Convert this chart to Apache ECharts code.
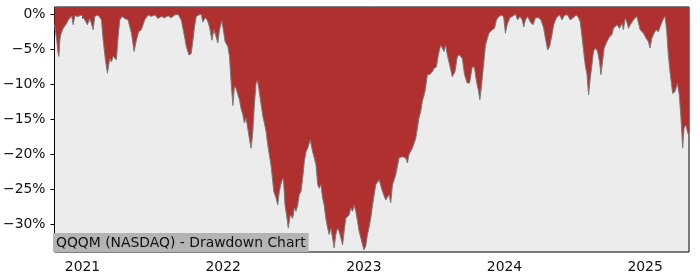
<!DOCTYPE html>
<html>
<head>
<meta charset="utf-8">
<script src="https://cdn.jsdelivr.net/npm/echarts@6/dist/echarts.min.js"></script>
<style>html,body{margin:0;padding:0;background:#fff}#c{width:700px;height:280px}</style>
</head>
<body>
<div id="c"></div>
<script>
// time in decimal years
var years = [2020.801,2020.816,2020.826,2020.832,2020.840,2020.848,2020.863,2020.887,2020.899,2020.922,2020.934,2020.945,2020.968,2020.993,
2021.016,2021.035,2021.052,2021.076,2021.087,2021.111,2021.135,2021.147,2021.163,2021.177,2021.194,2021.206,2021.218,2021.229,2021.241,2021.253,
2021.265,2021.282,2021.300,2021.324,2021.348,2021.367,2021.383,2021.399,2021.418,2021.442,2021.466,2021.489,2021.513,2021.537,2021.560,2021.584,
2021.608,2021.631,2021.655,2021.679,2021.702,2021.721,2021.738,2021.757,2021.773,2021.785,2021.796,2021.809,2021.826,2021.844,2021.856,2021.872,
2021.887,2021.903,2021.920,2021.934,2021.950,2021.962,2021.974,2021.991,2022.005,2022.014,2022.033,2022.045,2022.057,2022.069,2022.080,2022.092,
2022.104,2022.116,2022.128,2022.140,2022.151,2022.163,2022.175,2022.187,2022.199,2022.211,2022.222,2022.234,2022.243,2022.253,2022.270,2022.282,
2022.293,2022.305,2022.317,2022.328,2022.340,2022.351,2022.360,2022.376,2022.388,2022.399,2022.416,2022.428,2022.440,2022.454,2022.463,2022.477,
2022.494,2022.506,2022.518,2022.530,2022.541,2022.553,2022.565,2022.577,2022.589,2022.601,2022.619,2022.629,2022.636,2022.648,2022.660,2022.672,
2022.683,2022.695,2022.707,2022.718,2022.730,2022.743,2022.754,2022.766,2022.778,2022.789,2022.801,2022.813,2022.825,2022.837,2022.849,2022.860,
2022.872,2022.896,2022.908,2022.920,2022.931,2022.943,2022.955,2022.967,2022.979,2022.991,2023.002,2023.014,2023.026,2023.038,2023.050,2023.062,
2023.085,2023.109,2023.133,2023.156,2023.179,2023.191,2023.204,2023.227,2023.250,2023.274,2023.298,2023.310,2023.321,2023.345,2023.369,2023.381,
2023.392,2023.404,2023.416,2023.435,2023.452,2023.468,2023.487,2023.499,2023.516,2023.530,2023.546,2023.558,2023.570,2023.582,2023.594,2023.610,
2023.629,2023.648,2023.665,2023.681,2023.700,2023.716,2023.735,2023.752,2023.771,2023.787,2023.801,2023.816,2023.825,2023.835,2023.849,2023.865,
2023.889,2023.913,2023.929,2023.943,2023.960,2023.984,2023.995,2024.007,2024.019,2024.038,2024.055,2024.078,2024.094,2024.110,2024.126,2024.137,
2024.149,2024.165,2024.184,2024.203,2024.220,2024.243,2024.260,2024.279,2024.291,2024.307,2024.321,2024.333,2024.350,2024.369,2024.392,2024.409,
2024.428,2024.449,2024.468,2024.487,2024.511,2024.527,2024.539,2024.558,2024.574,2024.587,2024.598,2024.610,2024.622,2024.633,2024.645,2024.662,
2024.676,2024.686,2024.697,2024.709,2024.728,2024.747,2024.764,2024.775,2024.799,2024.818,2024.835,2024.846,2024.858,2024.870,2024.882,2024.894,
2024.917,2024.941,2024.953,2024.965,2024.988,2025.007,2025.023,2025.035,2025.048,2025.064,2025.078,2025.094,2025.106,2025.126,2025.142,2025.154,
2025.165,2025.177,2025.196,2025.213,2025.229,2025.243,2025.255,2025.267,2025.277,2025.291,2025.300,2025.312];

// drawdown in percent
var drawdown = [-1.5,-3.5,-5.5,-6.0,-3.5,-2.7,-2.0,-1.3,-0.8,-0.2,-1.5,-0.2,-0.3,-0.1,
-0.8,-1.5,-0.6,-2.2,-0.3,-0.1,-0.8,-3.7,-6.5,-8.4,-6.3,-6.8,-6.0,-6.2,-6.5,-3.2,
-0.8,-0.3,-0.6,-0.8,-2.7,-5.3,-3.7,-2.5,-2.2,-0.8,-0.1,-0.3,-0.1,-0.6,-0.3,-0.5,
-0.2,-0.5,-0.1,0,-0.8,-2.7,-4.6,-5.8,-5.6,-3.7,-1.8,-0.3,-0.1,0,-1.1,-0.5,
-0.8,-1.8,-3.7,-2.2,-3.2,-4.1,-2.2,-0.9,-0.9,-3.9,-4.6,-6.0,-9.8,-13.0,-10.3,-10.6,
-10.4,-12.2,-13.5,-14.3,-15.5,-14.8,-16.3,-17.8,-19.1,-16.7,-12.9,-9.8,-9.4,-10.5,-12.9,-14.5,
-15.5,-16.7,-18.6,-20.0,-21.5,-23.5,-25.3,-26.2,-27.2,-25.3,-23.8,-23.4,-27.2,-29.1,-30.5,-28.6,
-29.1,-27.6,-28.1,-27.2,-25.7,-25.3,-23.4,-21.0,-19.6,-19.1,-17.9,-18.1,-19.6,-20.5,-21.5,-24.3,
-24.8,-24.3,-26.2,-27.2,-29.1,-30.5,-31.4,-30.5,-31.9,-33.3,-31.4,-30.5,-31.0,-31.9,-32.9,-31.0,
-29.1,-28.6,-27.6,-28.1,-27.2,-28.1,-29.5,-31.0,-31.9,-32.9,-33.6,-33.0,-31.4,-30.3,-29.0,-27.2,
-24.3,-23.6,-25.3,-26.5,-25.7,-26.9,-24.3,-22.9,-20.5,-20.3,-20.5,-21.2,-20.0,-19.1,-17.7,-16.2,
-14.8,-13.9,-12.4,-11.0,-8.6,-8.6,-8.2,-7.7,-7.5,-5.8,-4.4,-4.8,-5.3,-4.4,-5.8,-7.2,
-8.9,-8.2,-6.0,-5.8,-6.3,-8.6,-9.8,-9.8,-7.5,-7.6,-9.6,-11.0,-12.2,-10.5,-7.7,-4.4,
-2.7,-2.2,-2.0,-0.8,-0.3,-0.1,-0.5,-2.7,-1.5,-0.5,-0.3,0,-0.8,-0.3,-0.8,-1.8,
-0.8,-0.3,-1.1,-1.5,-0.5,-0.5,-0.8,-2.0,-3.4,-5.1,-4.6,-3.4,-1.5,-0.5,-0.1,-0.8,
-0.1,-0.1,-0.8,-0.5,-0.1,-0.5,-1.1,-4.4,-7.2,-8.6,-11.5,-9.1,-7.2,-5.3,-4.8,-5.3,
-6.8,-8.6,-6.8,-4.8,-3.9,-3.2,-2.9,-2.0,-1.5,-2.0,-1.3,-2.2,-0.6,-1.1,-2.0,-1.5,
-0.8,-0.3,-0.3,-2.2,-2.7,-3.4,-3.9,-4.8,-3.4,-2.7,-2.2,-2.5,-1.8,-0.8,-0.3,-2.5,
-5.8,-8.2,-11.3,-11.0,-9.8,-11.5,-14.8,-19.1,-16.2,-15.8,-16.7,-17.4];

var xTicks = [2021, 2022, 2023, 2024, 2025];
var yTicks = [0, -5, -10, -15, -20, -25, -30];
var titleText = 'QQQM (NASDAQ) - Drawdown Chart';

var seriesData = years.map(function (t, i) { return [t, drawdown[i]]; });

var chart = echarts.init(document.getElementById('c'), null, {renderer: 'canvas'});
var font = 'DejaVu Sans';
var fs = 13.9;
chart.setOption({
  animation: false,
  backgroundColor: '#ffffff',
  grid: {left: 53, right: 11, top: 7, bottom: 28, show: true, backgroundColor: '#ececec', borderColor: '#000', borderWidth: 1},
  title: {
    text: titleText, left: 53, bottom: 28,
    backgroundColor: '#b4b4b4', padding: [3, 3, 2, 3],
    textStyle: {fontFamily: font, fontSize: fs, fontWeight: 'normal', color: '#111'}
  },
  xAxis: {
    type: 'value', min: years[0], max: years[years.length - 1],
    splitLine: {show: false},
    axisLine: {show: false},
    axisTick: {show: true, customValues: xTicks, length: 4, lineStyle: {color: '#000'}},
    axisLabel: {customValues: xTicks, fontFamily: font, fontSize: fs, color: '#111', margin: 8, formatter: function (v) { return String(Math.round(v)); }}
  },
  yAxis: {
    type: 'value', min: -33.9, max: 1.04,
    splitLine: {show: false},
    axisLine: {show: false},
    axisTick: {show: true, customValues: yTicks, length: 4, lineStyle: {color: '#000'}},
    axisLabel: {customValues: yTicks, fontFamily: font, fontSize: fs, color: '#111', margin: 9,
      formatter: function (v) { v = Math.round(v); return (v < 0 ? '\u2212' + Math.abs(v) : String(v)) + '%'; }}
  },
  series: [{
    type: 'line', data: seriesData, showSymbol: false, smooth: false,
    lineStyle: {color: '#7a7a7a', width: 1},
    areaStyle: {origin: 'end', color: '#b03030', opacity: 1},
    z: 2
  }]
});
</script>
</body>
</html>
